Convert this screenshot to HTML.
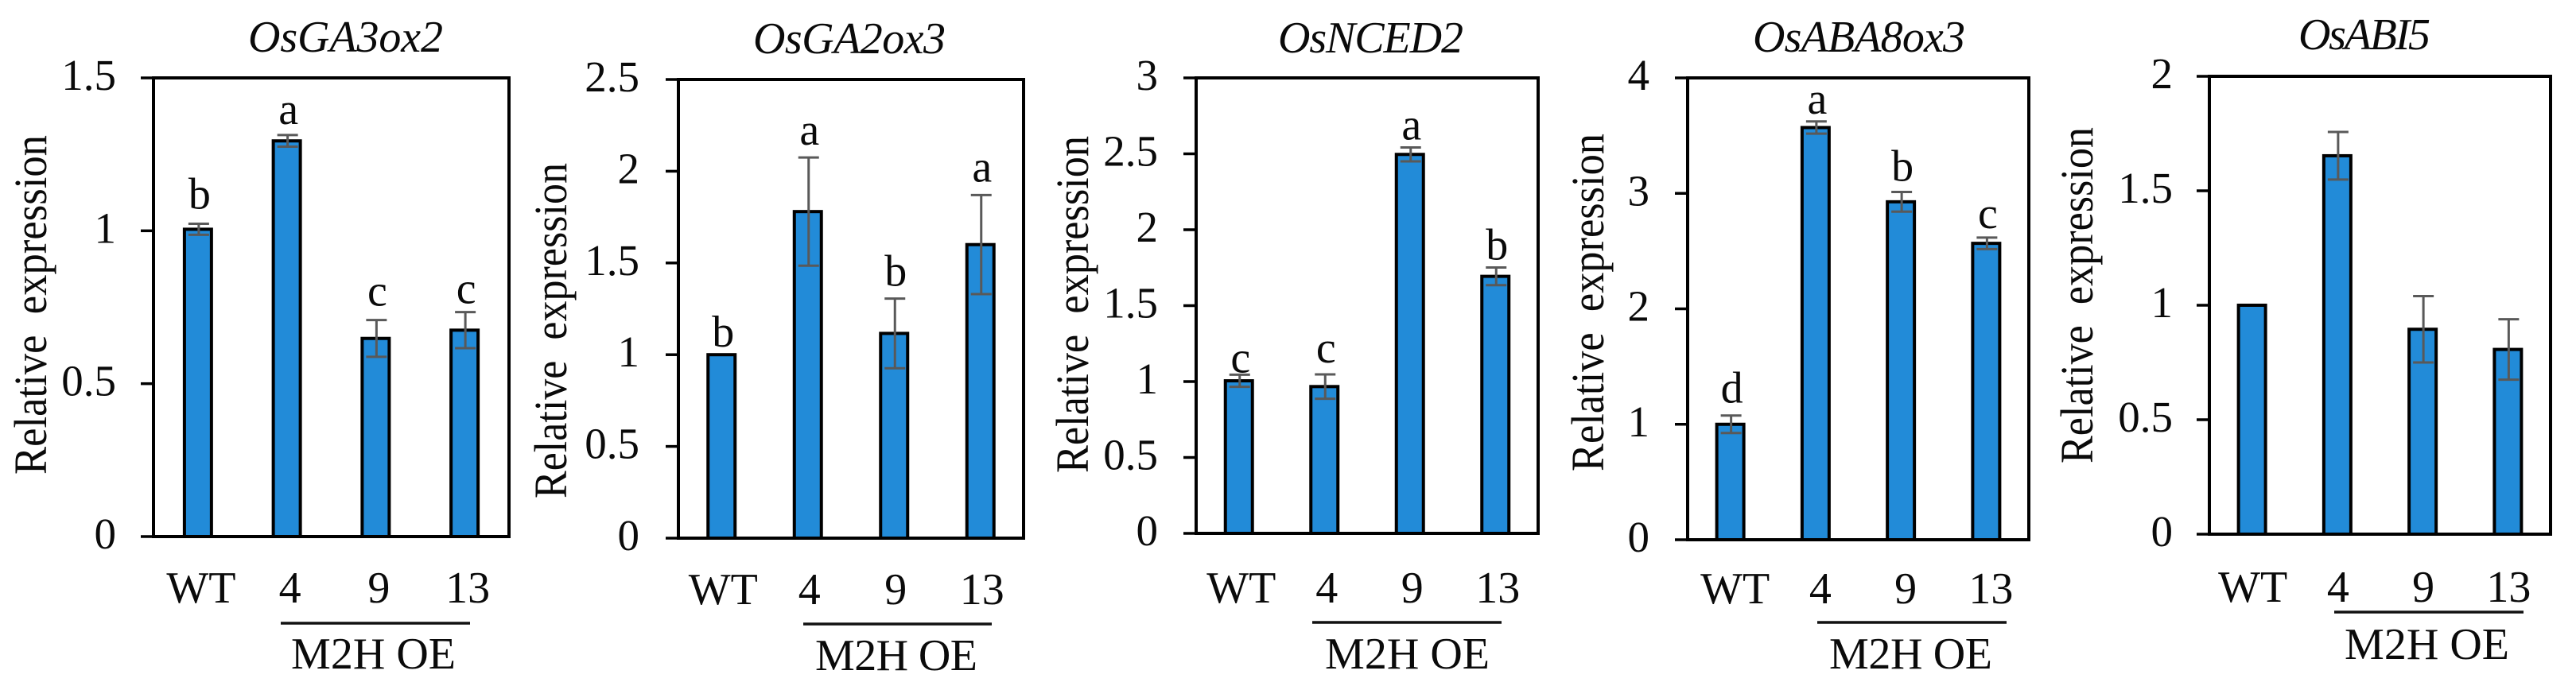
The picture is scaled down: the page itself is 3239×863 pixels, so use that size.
<!DOCTYPE html>
<html lang="en">
<head>
<meta charset="utf-8">
<title>Relative expression of five genes</title>
<style>
html,body{margin:0;padding:0;background:#fff;}
svg{display:block;}
text{font-family:"Liberation Serif","Times New Roman",serif;fill:#0a0a0a;white-space:pre;}
</style>
</head>
<body>
<svg id="figure" xmlns="http://www.w3.org/2000/svg" width="3239" height="863" viewBox="0 0 3239 863"></svg>
<script>
// ---- Data ----
const categories = ['WT', '4', '9', '13'];
const groupLabel = 'M2H OE';
const yAxisTitle = 'Relative  expression';

const ga3oxTicks = ['0', '0.5', '1', '1.5'];
const ga3oxValues = [1.005, 1.294, 0.648, 0.675];
const ga3oxErrors = [0.018, 0.019, 0.06, 0.059];
const ga3oxLetters = ['b', 'a', 'c', 'c'];

const ga2oxTicks = ['0', '0.5', '1', '1.5', '2', '2.5'];
const ga2oxValues = [1.0, 1.78, 1.116, 1.6];
const ga2oxErrors = [0, 0.295, 0.19, 0.27];
const ga2oxLetters = ['b', 'a', 'b', 'a'];

const ncedTicks = ['0', '0.5', '1', '1.5', '2', '2.5', '3'];
const ncedValues = [1.005, 0.967, 2.496, 1.693];
const ncedErrors = [0.04, 0.08, 0.046, 0.058];
const ncedLetters = ['c', 'c', 'a', 'b'];

const aba8oxTicks = ['0', '1', '2', '3', '4'];
const aba8oxValues = [1.0, 3.57, 2.927, 2.567];
const aba8oxErrors = [0.076, 0.053, 0.085, 0.05];
const aba8oxLetters = ['d', 'a', 'b', 'c'];

const abi5Ticks = ['0', '0.5', '1', '1.5', '2'];
const abi5Values = [1.0, 1.653, 0.895, 0.807];
const abi5Errors = [0, 0.104, 0.145, 0.132];
const abi5Letters = ['', '', '', ''];

// ---- Panels: data references plus frame layout ----
const panels = [
  {key:'osga3ox2', title:'OsGA3ox2', ticks:ga3oxTicks, values:ga3oxValues, errors:ga3oxErrors, letters:ga3oxLetters,
   frame:{l:193, r:640, t:98, b:675}, tickRight:146, titleBox:[312,557,65], yTitleBox:[58,170,597], catBase:758, catNudge:4,
   rule:[353,591,784], groupBox:[366,573,841], letterGaps:[19,14,18,11]},
  {key:'osga2ox3', title:'OsGA2ox3', ticks:ga2oxTicks, values:ga2oxValues, errors:ga2oxErrors, letters:ga2oxLetters,
   frame:{l:853, r:1287, t:100, b:677}, tickRight:804, titleBox:[947,1189,67], yTitleBox:[712,205,627], catBase:760, catNudge:2,
   rule:[1010,1247,785], groupBox:[1025,1229,843], letterGaps:[10,16,16,17]},
  {key:'osnced2', title:'OsNCED2', ticks:ncedTicks, values:ncedValues, errors:ncedErrors, letters:ncedLetters,
   frame:{l:1504, r:1934, t:98, b:671}, tickRight:1456, titleBox:[1607,1840,66], yTitleBox:[1368,171,595], catBase:758, catNudge:3,
   rule:[1650,1888,783], groupBox:[1666,1873,841], letterGaps:[3,15,10,10]},
  {key:'osaba8ox3', title:'OsABA8ox3', ticks:aba8oxTicks, values:aba8oxValues, errors:aba8oxErrors, letters:aba8oxLetters,
   frame:{l:2122, r:2551, t:98, b:679}, tickRight:2074, titleBox:[2204,2471,65], yTitleBox:[2016,168,593], catBase:759, catNudge:6,
   rule:[2285,2523,783], groupBox:[2300,2505,841], letterGaps:[16,10,14,12]},
  {key:'osabi5', title:'OsABI5', ticks:abi5Ticks, values:abi5Values, errors:abi5Errors, letters:abi5Letters,
   frame:{l:2778, r:3207, t:96, b:672}, tickRight:2732, titleBox:[2890,3056,62], yTitleBox:[2631,160,583], catBase:757, catNudge:1,
   rule:[2935,3173,770], groupBox:[2948,3155,829], letterGaps:[0,0,0,0]}
];

const NS = 'http://www.w3.org/2000/svg';
const svg = document.getElementById('figure');

function make(tag, attrs, parent, txt) {
  const el = document.createElementNS(NS, tag);
  Object.keys(attrs).forEach(function (k) { el.setAttribute(k, attrs[k]); });
  if (txt !== undefined) el.textContent = txt;
  parent.appendChild(el);
  return el;
}

panels.forEach(function (p) {
  const f = p.frame;
  const maxY = Number(p.ticks[p.ticks.length - 1]);
  const yScale = function (v) { return f.b - (v / maxY) * (f.b - f.t); };
  const band = (f.r - f.l) / categories.length;
  const xScale = function (i) { return f.l + band * (i + 0.5); };

  const g = make('g', {}, svg);
  
  

  const title = make('text', {x: p.titleBox[0], y: p.titleBox[2], 'font-size': 56, 'font-style': 'italic', textLength: p.titleBox[1] - p.titleBox[0], lengthAdjust: 'spacing'}, g, p.title);
  
  

  const yt = p.yTitleBox;
  const yTitle = make('text', {transform: 'translate(' + yt[0] + ',' + yt[2] + ') rotate(-90)', 'font-size': 58, textLength: yt[2] - yt[1], lengthAdjust: 'spacingAndGlyphs'}, g, yAxisTitle);
  
  

  // bars first, frame on top of their bases
  p.values.forEach(function (v, i) {
    const cx = xScale(i);
    const top = yScale(v);
    const bar = make('rect', {x: cx - 17, y: top, width: 34, height: f.b - top, fill: '#228BD8', stroke: '#000', 'stroke-width': 4}, g);
    
    
  });

  const frame = make('rect', {x: f.l, y: f.t, width: f.r - f.l, height: f.b - f.t, fill: 'none', stroke: '#000', 'stroke-width': 4}, g);
  
  

  p.ticks.forEach(function (label) {
    const v = Number(label);
    const ty = yScale(v);
    const tick = make('line', {x1: f.l - 16, x2: f.l, y1: ty, y2: ty, stroke: '#000', 'stroke-width': 3.5}, g);
    
    
    const tl = make('text', {x: p.tickRight, y: ty + 15, 'font-size': 55, 'text-anchor': 'end'}, g, label);
    
    
  });

  p.errors.forEach(function (e, i) {
    if (!e) return;
    const cx = xScale(i) + 1;
    const hi = yScale(p.values[i] + e);
    const lo = yScale(p.values[i] - e);
    const stem = make('line', {x1: cx, x2: cx, y1: hi, y2: lo, stroke: '#595959', 'stroke-width': 3}, g);
    
    
    const capHi = make('line', {x1: cx - 13, x2: cx + 13, y1: hi, y2: hi, stroke: '#595959', 'stroke-width': 3}, g);
    
    
    const capLo = make('line', {x1: cx - 13, x2: cx + 13, y1: lo, y2: lo, stroke: '#595959', 'stroke-width': 3}, g);
    
    
  });

  p.letters.forEach(function (ch, i) {
    if (!ch) return;
    const base = yScale(p.values[i] + p.errors[i]) - p.letterGaps[i];
    const letter = make('text', {x: xScale(i) + 2, y: base, 'font-size': 56, 'text-anchor': 'middle'}, g, ch);
    
    
  });

  categories.forEach(function (c, i) {
    const cat = make('text', {x: xScale(i) + p.catNudge, y: p.catBase, 'font-size': 56, 'text-anchor': 'middle'}, g, c);
    
    
  });

  const rule = make('line', {x1: p.rule[0], x2: p.rule[1], y1: p.rule[2], y2: p.rule[2], stroke: '#111', 'stroke-width': 3.5}, g);
  
  

  const gl = make('text', {x: p.groupBox[0], y: p.groupBox[2], 'font-size': 56, textLength: p.groupBox[1] - p.groupBox[0], lengthAdjust: 'spacing'}, g, groupLabel);
  
  
});
</script>
</body>
</html>
